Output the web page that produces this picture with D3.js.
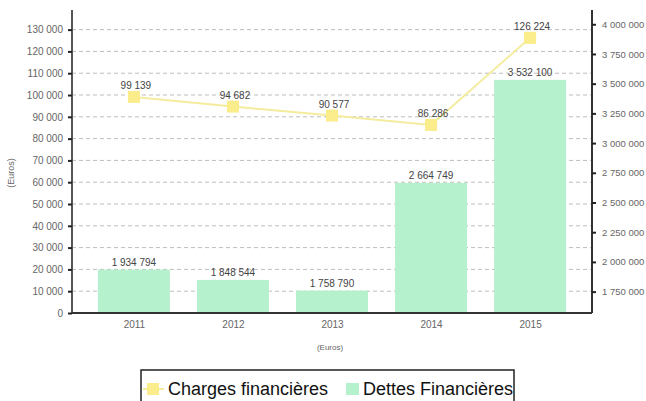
<!DOCTYPE html>
<html>
<head>
<meta charset="utf-8">
<script src="https://cdn.jsdelivr.net/npm/d3@7"></script>
<style>
  body { margin: 0; background: #fff; }
  svg { font-family: "Liberation Sans", Arial, sans-serif; }
</style>
</head>
<body>
<svg id="chart" width="646" height="401"></svg>
<script>
// data
const years = ['2011', '2012', '2013', '2014', '2015']
const charges = [99139, 94682, 90577, 86286, 126224]
const dettes = [1934794, 1848544, 1758790, 2664749, 3532100]
const leftTicks = d3.range(0, 130001, 10000)
const rightTicks = [1750000, 2000000, 2250000, 2500000, 2750000, 3000000, 3250000, 3500000, 3750000, 4000000]

const svg = d3.select('#chart')
const fmt = v => d3.format(',')(v).replace(/,/g, ' ')

// scales
const x = d3.scalePoint()
    .domain(years)
    .range([72, 592])
    .padding(0.625)
const yL = d3.scaleLinear()
    .domain([0, 139000])
    .range([313, 10])
const yR = d3.scaleLinear()
    .domain([1570000, 4120000])
    .range([313, 10])

// grid lines
svg.append('g')
    .selectAll('line')
    .data(leftTicks.slice(1))
    .enter()
    .append('line')
        .attr('x1', 72)
        .attr('x2', 592)
        .attr('y1', d => yL(d))
        .attr('y2', d => yL(d))
        .attr('stroke', '#bdbdbd')
        .attr('stroke-width', 1)
        .attr('stroke-dasharray', '4,3')

// bars (right axis)
const barW = 72
svg.append('g')
    .selectAll('rect')
    .data(dettes)
    .enter()
    .append('rect')
        .attr('x', (d, i) => x(years[i]) - barW / 2)
        .attr('y', d => yR(d))
        .attr('width', barW)
        .attr('height', d => 313 - yR(d))
        .attr('fill', '#b6f1cd')

svg.append('g')
    .selectAll('text')
    .data(dettes)
    .enter()
    .append('text')
        .attr('x', (d, i) => x(years[i]))
        .attr('y', d => yR(d) - 4)
        .attr('text-anchor', 'middle')
        .attr('font-size', 10)
        .attr('fill', '#444')
        .text(d => fmt(d))

// axes
const axL = d3.axisLeft(yL)
    .tickValues(leftTicks)
    .tickSize(4)
    .tickFormat(d => fmt(d))
const gL = svg.append('g')
    .attr('transform', 'translate(72,0)')
    .call(axL)
gL.select('.domain').attr('stroke', '#555').attr('stroke-width', 2).attr('d', 'M0,10V313')
gL.selectAll('.tick line').attr('stroke', '#222').attr('stroke-width', 2)
gL.selectAll('.tick text').attr('font-size', 10).attr('fill', '#666').attr('x', -9)

const axR = d3.axisRight(yR)
    .tickValues(rightTicks)
    .tickSize(4)
    .tickFormat(d => fmt(d))
const gR = svg.append('g')
    .attr('transform', 'translate(592,0)')
    .call(axR)
gR.select('.domain').attr('stroke', '#333').attr('stroke-width', 2).attr('d', 'M0,10V313')
gR.selectAll('.tick line').attr('stroke', '#222').attr('stroke-width', 2)
gR.selectAll('.tick text').attr('font-size', 9.5).attr('fill', '#666').attr('x', 10)

const axB = d3.axisBottom(x).tickSize(0)
const gB = svg.append('g')
    .attr('transform', 'translate(0,313)')
    .call(axB)
gB.select('.domain').attr('stroke', '#333').attr('stroke-width', 2).attr('d', 'M72,0H592')
gB.selectAll('.tick text').attr('font-size', 10).attr('fill', '#666').attr('dy', 12)

// axis titles
svg.append('text')
    .attr('transform', 'translate(14,173) rotate(-90)')
    .attr('text-anchor', 'middle')
    .attr('font-size', 9)
    .attr('fill', '#666')
    .text('(Euros)')
svg.append('text')
    .attr('x', 330)
    .attr('y', 350)
    .attr('text-anchor', 'middle')
    .attr('font-size', 8)
    .attr('fill', '#666')
    .text('(Euros)')

// line (left axis)
const line = d3.line()
    .x((d, i) => x(years[i]))
    .y(d => yL(d))
svg.append('path')
    .datum(charges)
    .attr('d', line)
    .attr('fill', 'none')
    .attr('stroke', '#f4ec9c')
    .attr('stroke-width', 2)

svg.append('g')
    .selectAll('rect')
    .data(charges)
    .enter()
    .append('rect')
        .attr('x', (d, i) => x(years[i]) - 6)
        .attr('y', d => yL(d) - 6)
        .attr('width', 12)
        .attr('height', 12)
        .attr('fill', '#fbec8c')

svg.append('g')
    .selectAll('text')
    .data(charges)
    .enter()
    .append('text')
        .attr('x', (d, i) => x(years[i]) + 2)
        .attr('y', d => yL(d) - 8)
        .attr('text-anchor', 'middle')
        .attr('font-size', 10)
        .attr('fill', '#444')
        .text(d => fmt(d))

// legend
const lg = svg.append('g')
lg.append('rect')
    .attr('x', 141)
    .attr('y', 370)
    .attr('width', 373)
    .attr('height', 40)
    .attr('fill', '#fff')
    .attr('stroke', '#222')
    .attr('stroke-width', 1.5)
lg.append('line')
    .attr('x1', 143).attr('x2', 164)
    .attr('y1', 389).attr('y2', 389)
    .attr('stroke', '#f4ec9c').attr('stroke-width', 2)
lg.append('rect')
    .attr('x', 147).attr('y', 383).attr('width', 12).attr('height', 12)
    .attr('fill', '#fbec8c')
lg.append('text')
    .attr('x', 168).attr('y', 395)
    .attr('font-size', 18)
    .attr('fill', '#111')
    .text('Charges financières')
lg.append('rect')
    .attr('x', 346).attr('y', 383).attr('width', 13).attr('height', 12)
    .attr('fill', '#b6f1cd')
lg.append('text')
    .attr('x', 363).attr('y', 395)
    .attr('font-size', 18)
    .attr('fill', '#111')
    .text('Dettes Financières')
</script>
</body>
</html>
